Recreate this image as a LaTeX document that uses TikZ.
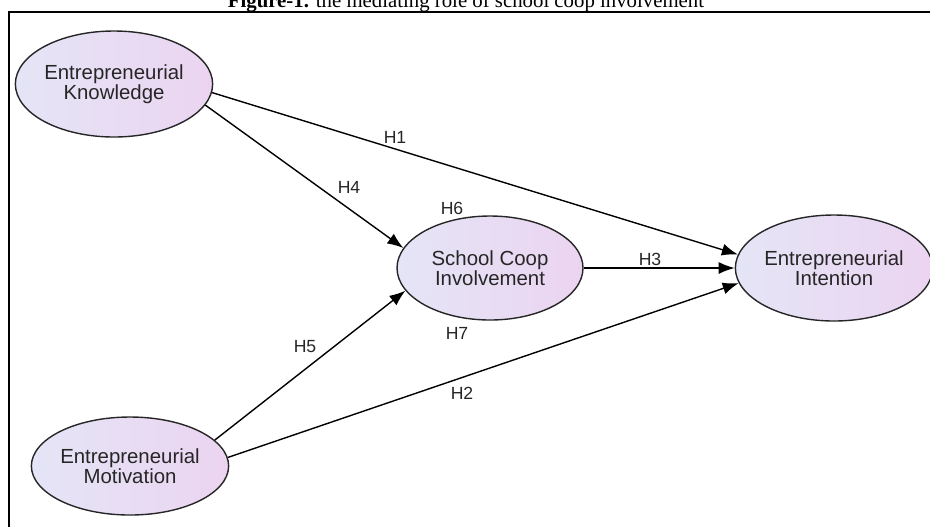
\documentclass[tikz,border=0pt]{standalone}
\usepackage{fontspec}
\setmainfont{Liberation Sans}
\newfontfamily\capfont{Liberation Serif}
\usetikzlibrary{shapes.geometric,arrows.meta}
\definecolor{lilacL}{RGB}{228,229,246}
\definecolor{lilacR}{RGB}{236,212,241}

\begin{document}
\begin{tikzpicture}[x=0.5pt,y=-0.5pt,>={Latex[length=8pt,width=6pt]},
  construct/.style={ellipse,draw=black!85,line width=0.7pt,inner sep=0pt,
    left color=lilacL,right color=lilacR,align=center,
    font=\fontsize{10.2}{10}\selectfont,text=black!85},
  hyp/.style={->,line width=0.7pt},
  hlabel/.style={font=\fontsize{8.8}{10}\selectfont,text=black!85}]
  \useasboundingbox (0,0) rectangle (930,526);
  % caption, cut by the page top
  \node[font=\capfont\fontsize{10.4}{12}\selectfont,anchor=base] (caption) at (466,7)
    {\textbf{Figure-1.} the mediating role of school coop involvement};
  \draw[line width=1pt] (940,12) -- (9,12) -- (9,540);
  % constructs
  \node[construct,minimum width=98pt,minimum height=53pt] (know) at (114,84) {Entrepreneurial\\Knowledge};
  \node[construct,minimum width=97pt,minimum height=49pt] (motiv) at (130,466) {Entrepreneurial\\Motivation};
  \node[construct,minimum width=93pt,minimum height=52pt] (coop) at (490,268) {School Coop\\Involvement};
  \node[construct,minimum width=91pt,minimum height=53pt] (intent) at (834,268) {Entrepreneurial\\Intention};
  % hypotheses
  \draw[hyp] (know.-5) -- (intent.172);
  \draw[hyp] (know.-13) -- (coop.167);
  \draw[hyp] (coop.east) -- (intent.west);
  \draw[hyp] (motiv.17) -- (coop.-165);
  \draw[hyp] (motiv.5) -- (intent.-171);
  \node[hlabel] (h1) at (395,137) {H1};
  \node[hlabel] (h2) at (462,393) {H2};
  \node[hlabel] (h3) at (650,259) {H3};
  \node[hlabel] (h4) at (349,187) {H4};
  \node[hlabel] (h5) at (305,347) {H5};
  \node[hlabel] (h6) at (452,208) {H6};
  \node[hlabel] (h7) at (457,333) {H7};
\end{tikzpicture}
\end{document}
